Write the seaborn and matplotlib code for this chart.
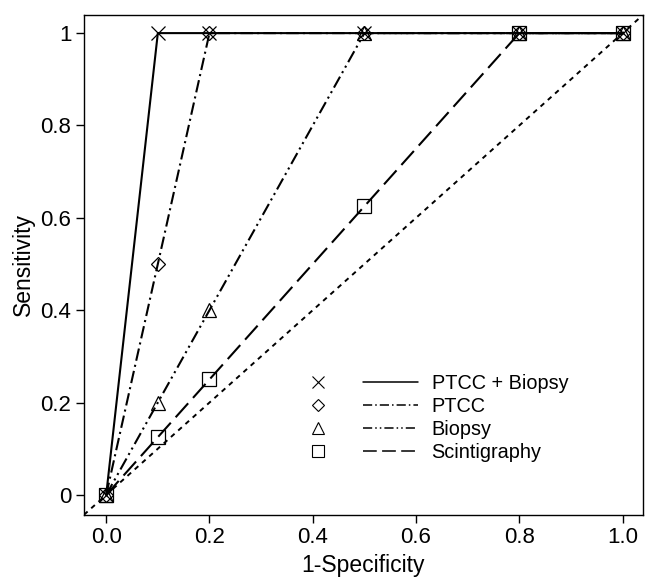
import matplotlib
matplotlib.use("Agg")
import matplotlib.pyplot as plt
import seaborn as sns
import pandas as pd
from matplotlib.lines import Line2D
from matplotlib.legend_handler import HandlerTuple

# valores
fpr = [0.0, 0.1, 0.2, 0.5, 0.8, 1.0]
sens_ptcc_biopsy = [0.0, 1.0, 1.0, 1.0, 1.0, 1.0]
sens_ptcc = [0.0, 0.5, 1.0, 1.0, 1.0, 1.0]
sens_biopsy = [0.0, 0.2, 0.4, 1.0, 1.0, 1.0]
sens_scint = [0.0, 0.125, 0.25, 0.625, 1.0, 1.0]

series_names = ["PTCC + Biopsy", "PTCC", "Biopsy", "Scintigraphy"]
x_ticks = [0.0, 0.2, 0.4, 0.6, 0.8, 1.0]
x_ticklabels = ["0.0", "0.2", "0.4", "0.6", "0.8", "1.0"]
y_ticks = [0.0, 0.2, 0.4, 0.6, 0.8, 1.0]
y_ticklabels = ["0", "0.2", "0.4", "0.6", "0.8", "1"]

sns.set_theme(style="ticks")
plt.rcParams['font.family'] = ['Liberation Sans', 'DejaVu Sans']
plt.rcParams['text.color'] = 'black'
plt.rcParams['axes.labelcolor'] = 'black'

fig = plt.figure(figsize=(6.46, 5.81), dpi=100)
ax = fig.add_axes([0.130, 0.114, 0.865, 0.860])

lim = (-0.043, 1.039)
# diagonal de referencia
ax.plot(lim, lim, color="black", lw=1.4, linestyle=(0, (2.5, 2.5)), zorder=1)

estilos = {
    "PTCC + Biopsy": dict(marker="x", ls="-", ms=10),
    "PTCC": dict(marker="D", ls=(0, (6, 2, 1, 2)), ms=7),
    "Biopsy": dict(marker="^", ls=(0, (6, 2, 1, 2, 1, 2)), ms=10),
    "Scintigraphy": dict(marker="s", ls=(0, (9, 3.5)), ms=10),
}
valores = [sens_ptcc_biopsy, sens_ptcc, sens_biopsy, sens_scint]

handles = []
for nome, sens in zip(series_names, valores):
    est = estilos[nome]
    df = pd.DataFrame({"x": fpr, "y": sens})
    sns.lineplot(data=df, x="x", y="y", ax=ax, color="black", lw=1.5,
                 linestyle=est["ls"], marker=est["marker"], markersize=est["ms"],
                 markerfacecolor="none", markeredgecolor="black",
                 markeredgewidth=0.9, legend=False, zorder=3)
    h_mk = Line2D([], [], color="black", marker=est["marker"], ms=est["ms"] * 0.85,
                  mfc="none", mec="black", mew=0.8, ls="none")
    h_ln = Line2D([], [], color="black", lw=1.1, ls=est["ls"])
    handles.append((h_mk, h_ln))

fs_leg = 14.3
ax.legend(handles, series_names, handler_map={tuple: HandlerTuple(ndivide=None, pad=0.88)},
          handlelength=6.4, frameon=False, fontsize=fs_leg, labelspacing=0.2,
          handletextpad=0.7, borderpad=0, borderaxespad=0,
          loc="upper left", bbox_to_anchor=(0.4497, 0.356),
          bbox_transform=fig.transFigure)

ax.set_xlim(lim)
ax.set_ylim(lim)
ax.set_xticks(x_ticks)
ax.set_xticklabels(x_ticklabels)
ax.set_yticks(y_ticks)
ax.set_yticklabels(y_ticklabels)
ax.tick_params(labelsize=16, length=6, width=1, colors="black", direction="out", pad=3)
for s in ax.spines.values():
    s.set_visible(True)
    s.set_color("black")
    s.set_linewidth(1)
ax.set_xlabel("1-Specificity", fontsize=16.5, labelpad=4)
ax.set_ylabel("Sensitivity", fontsize=16.5, labelpad=4)

fig.savefig("out.png", dpi=100)
